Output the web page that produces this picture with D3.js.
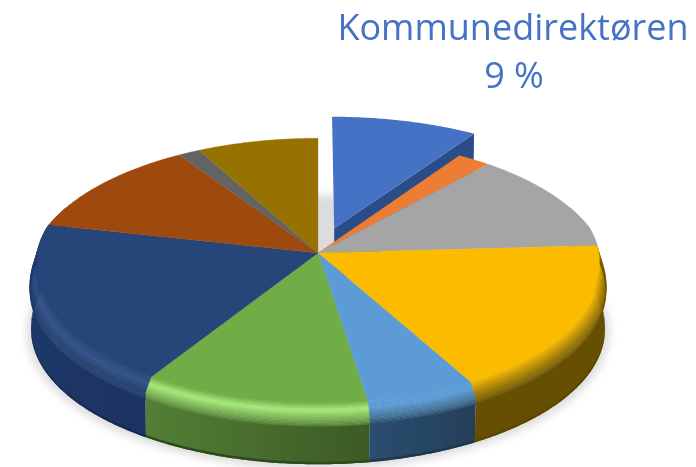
<!DOCTYPE html>
<html><head><meta charset="utf-8">
<style>html,body{margin:0;padding:0;background:#fff;overflow:hidden}</style>
<script src="https://cdn.jsdelivr.net/npm/d3@7/dist/d3.min.js"></script>
</head><body>
<script>
const categories = ["Kommunedirektøren","b","c","d","e","f","g","h","i","j"];
const values = [9.4,2.1,12.5,17.9,5.5,11.3,19.6,12.2,1.4,7.8];
const faceColors = ["#4472C4","#ED7D31","#A5A5A5","#FBBC00","#5B9BD5","#70AD47","#264478","#9E480E","#636363","#967200"];
const highlightColors = ["#4472C4","#ED7D31","#A5A5A5","#C89600","#5B9BD5","#A6EC78","#2F5088","#9E480E","#636363","#967200"];
const midColors = ["#3a62a8","#c86a2a","#888","#8f7000","#47799f","#7CB556","#223F70","#7e3a0b","#505050","#7a5c00"];
const wallLeft = ["#2C4D88","#8f4a1c","#666","#664F00","#2A4E70","#537F35","#1E3766","#5e2b08","#3c3c3c","#5b4500"];
const wallRight = ["#2C4D88","#8f4a1c","#666","#664F00","#243F58","#3C5A25","#1B3260","#5e2b08","#3c3c3c","#5b4500"];
const edgeColors = [null,null,null,"#5a4600","#1f3850","#2D4A1A","#182C56",null,null,null];
const labelLines = ["Kommunedirektøren","9 %"];

const W=696,H=467,cx=318,cy=253,R=285,A=132,k=0.15;
const bevelZ=18,depthZ=56,explode=0.2,wedgeRadius=1.03,bevelInset=0.03;

const svg=d3.select("body").append("svg").attr("width",W).attr("height",H).style("display","block");
const defs=svg.append("defs");
defs.append("filter").attr("id","shadow").attr("x","-10%").attr("y","-10%").attr("width","120%").attr("height","120%")
  .append("feGaussianBlur").attr("stdDeviation",4.5);
defs.append("filter").attr("id","soft").attr("x","-5%").attr("y","-5%").attr("width","110%").attr("height","110%")
  .append("feGaussianBlur").attr("stdDeviation",0.55);

function project(u,v,z){const w=1/(1-k*v);return [cx+R*u*w*(1-0.00008*z),cy+A*v*w+z];}
function faceRadius(t){const v=-Math.cos(t);return 1-bevelInset*Math.max(0,Math.min(1,(v+0.2)/0.4));}
function rim(t,r,z,o){return project(o[0]+r*Math.sin(t),o[1]-r*Math.cos(t),z);}
const line=d3.line();
function samples(a,b){const n=Math.max(2,Math.ceil((b-a)/0.01));return d3.range(n+1).map(i=>a+(b-a)*i/n);}

const arcs=d3.pie().sort(null).value(d=>d)(values);
const zero=[0,0];
function offset(d){const m=(d.startAngle+d.endAngle)/2;return d.index===0?[explode*Math.sin(m),-explode*Math.cos(m)]:zero;}

svg.append("path").attr("filter","url(#shadow)").attr("fill","#dcdcdc")
  .attr("d",line(samples(0,2*Math.PI).map(t=>rim(t,1.015,depthZ+2,zero)))+"Z");

const g=svg.append("g").attr("filter","url(#soft)");

arcs.filter(d=>d.index===0).forEach(d=>{
  const o=offset(d),e=d.endAngle;
  g.append("path").attr("fill",wallLeft[0]).attr("d",line([
    project(o[0],o[1],0),rim(e,wedgeRadius,0,o),rim(e,wedgeRadius,depthZ,o),project(o[0],o[1],depthZ)])+"Z");
  g.append("path").attr("fill",faceColors[0]).attr("d",line(
    [project(o[0],o[1],0)].concat(samples(d.startAngle,e).map(t=>rim(t,wedgeRadius,0,o))))+"Z");
});

const main=arcs.filter(d=>d.index!==0);
const visLo=1.2,visHi=2*Math.PI-1.2;
main.forEach(d=>{
  const a=Math.max(d.startAngle,visLo),b=Math.min(d.endAngle,visHi);
  if(b<=a) return;
  const ts=samples(a,b),rev=ts.slice().reverse();
  const p0=rim(a,1,0,zero),p1=rim(b,1,0,zero);
  const id="wall"+d.index;
  // the angle runs clockwise along the front, so the higher-angle end is on the left
  const gr=defs.append("linearGradient").attr("id",id).attr("gradientUnits","userSpaceOnUse")
    .attr("x1",p1[0]).attr("x2",p0[0]).attr("y1",0).attr("y2",0);
  gr.append("stop").attr("offset",0).attr("stop-color",wallLeft[d.index]);
  gr.append("stop").attr("offset",1).attr("stop-color",wallRight[d.index]);
  g.append("path").attr("fill",`url(#${id})`).attr("d",line(
    ts.map(t=>rim(t,1,bevelZ-1,zero)).concat(rev.map(t=>rim(t,1,depthZ,zero))))+"Z");
  if(edgeColors[d.index]){
    g.append("path").attr("fill",edgeColors[d.index]).attr("d",line(
      ts.map(t=>rim(t,1,depthZ-2.5,zero)).concat(rev.map(t=>rim(t,1,depthZ,zero))))+"Z");
  }
  const N=14;
  const col=d3.scaleLinear().domain([0,0.28,0.6,1])
    .range([faceColors[d.index],highlightColors[d.index],midColors[d.index],wallLeft[d.index]])
    .interpolate(d3.interpolateRgb);
  d3.range(N).forEach(i=>{
    const s0=i/N,s1=(i+1)/N;
    const pt=(t,s)=>{const rf=faceRadius(t);return rim(t,rf+(1-rf)*Math.min(1,s*1.6),bevelZ*s,zero);};
    const c=col(s0+0.5/N);
    g.append("path").attr("fill",c).attr("stroke",c).attr("stroke-width",0.4)
      .attr("d",line(ts.map(t=>pt(t,s0)).concat(rev.map(t=>pt(t,s1))))+"Z");
  });
});
main.forEach(d=>{
  g.append("path").attr("fill",faceColors[d.index]).attr("stroke",faceColors[d.index]).attr("stroke-width",0.3)
   .attr("d",line([project(0,0,0)].concat(samples(d.startAngle,d.endAngle).map(t=>rim(t,faceRadius(t),0,zero))))+"Z");
});

const label=svg.append("g").attr("fill","#4472C4").attr("font-family","'Open Sans'").attr("font-size",36)
  .attr("font-weight",500).attr("text-anchor","middle").attr("filter","url(#soft)");
label.append("text").attr("x",513).attr("y",40).text(labelLines[0]);
label.append("text").attr("x",514).attr("y",88).text(labelLines[1]);
</script>
</body></html>
